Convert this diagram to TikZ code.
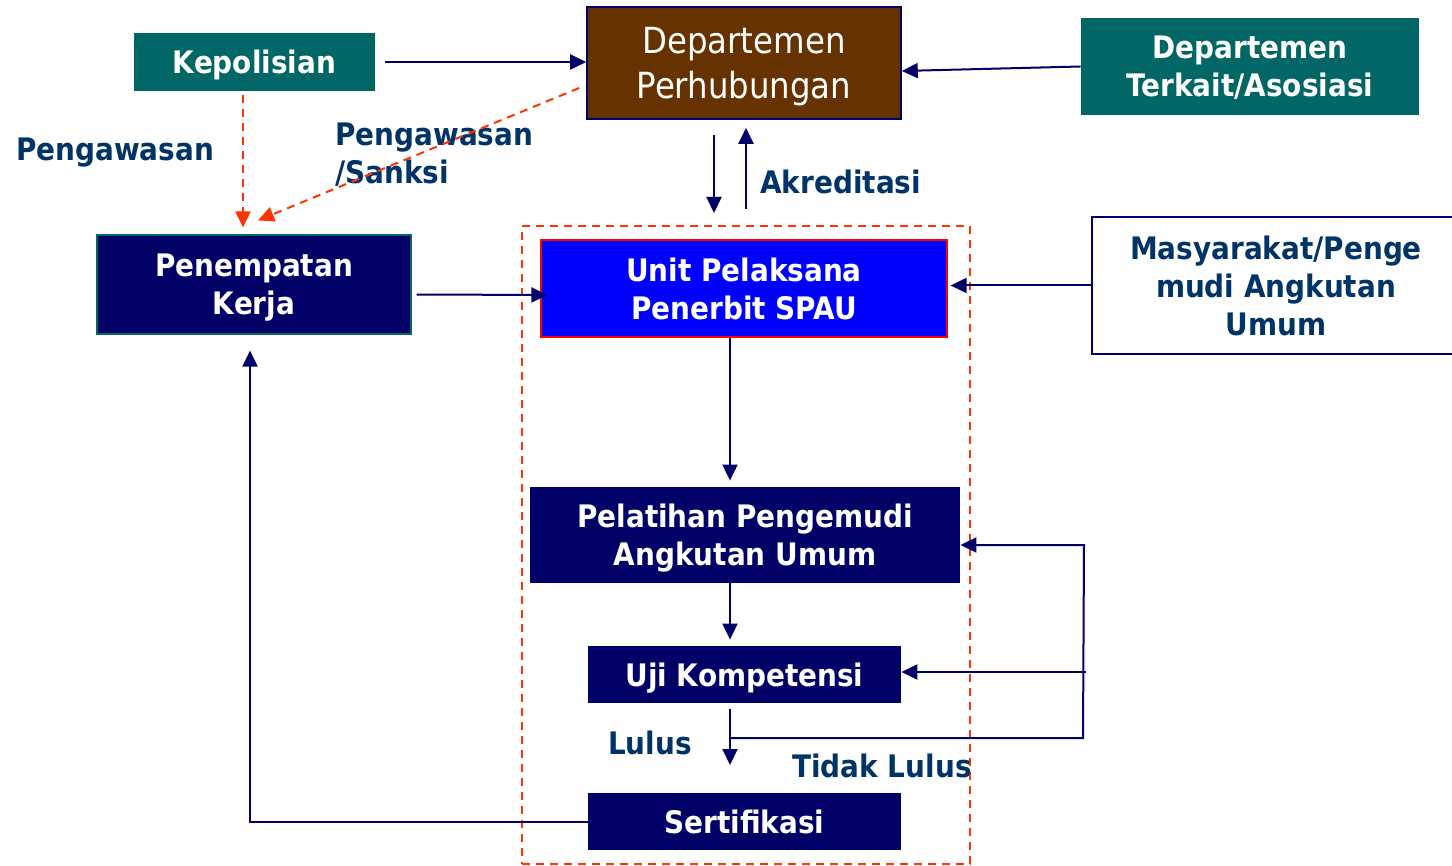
\documentclass[tikz,border=0pt]{standalone}
\usepackage{fontspec}
\setmainfont{DejaVu Sans Condensed}
\usetikzlibrary{arrows.meta}
\definecolor{tealbox}{HTML}{006666}
\definecolor{brownbox}{HTML}{663300}
\definecolor{navy}{HTML}{000066}
\definecolor{labelblue}{HTML}{003366}
\definecolor{warnred}{HTML}{FF3300}
\begin{document}
\begin{tikzpicture}[x=0.5pt,y=-0.5pt,
  box/.style={text=white,align=center,inner sep=0pt,text depth=0pt,font=\fontsize{15.5}{19}\selectfont\bfseries},
  lbl/.style={text=labelblue,align=left,inner sep=0pt,font=\fontsize{15.5}{19}\selectfont\bfseries},
  arr/.style={-{Triangle[length=8pt,width=7.5pt]},draw=navy,line width=1pt},
  warn/.style={-{Triangle[length=8pt,width=7.5pt]},draw=warnred,line width=1pt,dash pattern=on 4pt off 3pt}
]
  \useasboundingbox (0,0) rectangle (1452,866);
  \node[draw=warnred,line width=1pt,dash pattern=on 4pt off 3pt,minimum width=224pt,minimum height=319pt] (frame) at (746,545) {};

  \node[box,fill=tealbox,minimum width=120.5pt,minimum height=29pt] (kepolisian) at (254.5,62) {Kepolisian};
  \node[box,fill=brownbox,draw=navy,line width=0.8pt,minimum width=157pt,minimum height=56pt,
    font=\fontsize{18}{22.5}\selectfont] (dephub) at (744,63) {Departemen\\Perhubungan};
  \node[box,fill=tealbox,minimum width=169pt,minimum height=48.5pt] (depterkait) at (1250,66.5) {Departemen\\Terkait/Asosiasi};
  \node[box,fill=navy,draw=tealbox,line width=0.6pt,minimum width=157pt,minimum height=49.5pt] (penempatan) at (254,284.5) {Penempatan\\Kerja};
  \node[box,fill=blue,draw=red,line width=0.6pt,minimum width=203pt,minimum height=48.5pt] (unit) at (744,288.5) {Unit Pelaksana\\Penerbit SPAU};
  \node[box,text=labelblue,fill=white,draw=navy,line width=0.8pt,minimum width=184pt,minimum height=68.5pt] (masyarakat) at (1276,285.5) {Masyarakat/Penge\\mudi Angkutan\\Umum};
  \node[box,fill=navy,minimum width=215pt,minimum height=48pt] (pelatihan) at (745,535) {Pelatihan Pengemudi\\Angkutan Umum};
  \node[box,fill=navy,minimum width=156.5pt,minimum height=28.5pt] (uji) at (744.5,674.5) {Uji Kompetensi};
  \node[box,fill=navy,minimum width=156.5pt,minimum height=28.5pt] (sertifikasi) at (744.5,821.5) {Sertifikasi};

  \node[lbl] (pengawasan) at (115,153) {Pengawasan};
  \node[lbl,anchor=west] (sanksi) at (335,155) {Pengawasan\\/Sanksi};
  \node[lbl,anchor=west] (akreditasi) at (760,182) {Akreditasi};
  \node[lbl] (lulus) at (650,743) {Lulus};
  \node[lbl] (tidaklulus) at (882,766) {Tidak Lulus};

  \coordinate (lulusend) at (730,765);
  \coordinate (split) at (730,738);
  \coordinate (loopbot) at (1083,738);
  \coordinate (looptop) at (1084,545);
  \coordinate (loopmid) at (1086,672);

  \draw[arr] ([xshift=5pt]kepolisian.east) -- (kepolisian.east -| dephub.west);
  \draw[arr] (depterkait.west) -- ([yshift=-4pt]dephub.east);
  \draw[arr] ([xshift=-15pt,yshift=-7.5pt]dephub.south) -- ([xshift=-16pt,yshift=6pt]frame.north);
  \draw[arr] ([yshift=8pt]frame.north) -- ([xshift=1pt,yshift=-4pt]dephub.south);
  \draw[arr] ([xshift=2.5pt,yshift=-5pt]penempatan.east) -- ([xshift=3.5pt,yshift=-3.25pt]unit.west);
  \draw[arr] (masyarakat.west) -- ([xshift=1.5pt]masyarakat.west -| unit.east);
  \draw[arr] ([xshift=-7pt]unit.south) -- ([xshift=-7.5pt,yshift=3pt]pelatihan.north);
  \draw[arr] ([xshift=-7.5pt]pelatihan.south) -- ([xshift=-7.25pt,yshift=3pt]uji.north);
  \draw[arr] ([xshift=-7.25pt,yshift=-3pt]uji.south) -- (lulusend);
  \draw[arr] (split) -- (loopbot) -- (looptop) -- (looptop -| pelatihan.east);
  \draw[arr] (loopmid) -- (loopmid -| uji.east);
  \draw[arr] (sertifikasi.west) -| ([xshift=-2pt,yshift=-8pt]penempatan.south);

  \draw[warn] ([xshift=-5.75pt,yshift=-2pt]kepolisian.south) -- ([xshift=-5.5pt,yshift=3.5pt]penempatan.north);
  \draw[warn] ([xshift=-3.5pt,yshift=-12.5pt]dephub.west) -- ([xshift=2pt,yshift=7pt]penempatan.north);
\end{tikzpicture}
\end{document}
